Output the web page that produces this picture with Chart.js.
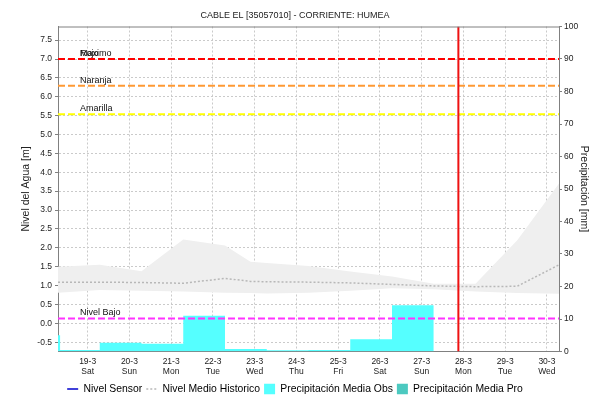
<!DOCTYPE html>
<html>
<head>
<meta charset="utf-8">
<script src="https://cdn.jsdelivr.net/npm/chart.js@4.4.0/dist/chart.umd.min.js"></script>
<style>
html,body{margin:0;padding:0;background:#fff;}
</style>
</head>
<body>
<canvas id="chart" width="590" height="403"></canvas>
<script>
// Cable El - nivel del agua y precipitacion

const days = ['19-3','20-3','21-3','22-3','23-3','24-3','25-3','26-3','27-3','28-3','29-3','30-3'];
const weekdays = ['Sat','Sun','Mon','Tue','Wed','Thu','Fri','Sat','Sun','Mon','Tue','Wed'];
const dayTicks = [0,1,2,3,4,5,6,7,8,9,10,11];

// historico (m), x en dias desde 19-3 00:00
const histX    = [-0.71, 0.29, 1.29, 2.29, 3.29, 3.9, 4.29, 5.29, 6.29, 7.29, 8.29, 9.29, 10.29, 11.29];
const histMax  = [1.50, 1.55, 1.38, 2.22, 2.06, 1.63, 1.60, 1.52, 1.37, 1.24, 1.05, 1.05, 2.20, 3.70];
const histMin  = [0.81, 0.88, 0.86, 0.84, 0.81, 0.80, 0.79, 0.81, 0.86, 0.93, 0.90, 0.84, 0.80, 0.78];
const histMean = [1.09, 1.09, 1.08, 1.06, 1.19, 1.11, 1.10, 1.09, 1.07, 1.03, 0.99, 0.97, 0.98, 1.55];

// precipitacion media observada (mm), valor vale hasta el siguiente punto
const precipX   = [-0.71, -0.66, 0.29, 1.29, 2.29, 3.29, 4.29, 5.29, 6.29, 7.29, 8.29];
const precipObs = [5.0, 0.5, 2.7, 2.4, 11.0, 0.8, 0.4, 0.45, 3.8, 14.2, 0];

const sensorLevel = [];
const precipPro = [];

const alertNames  = ['Maximo','Rojo','Naranja','Amarilla','Nivel Bajo'];
const alertLevels = [7.0, 7.0, 6.29, 5.54, 0.13];
const alertColors = ['#ff0000','#ff0000','#ff9933','#ffff00','#ff33ff'];

const nowX = 8.88;
const levelTicks = [-0.5,0,0.5,1,1.5,2,2.5,3,3.5,4,4.5,5,5.5,6,6.5,7,7.5];

const X_MIN = -0.71, X_MAX = 11.29;
const Y_MIN = -0.747, Y_MAX = 7.861;

const FONT = '"Liberation Sans", Arial, sans-serif';
Chart.defaults.font.family = FONT;
Chart.defaults.color = '#333';

const pts = (xs, ys) => xs.map((x, i) => ({x: x, y: ys[i]}));

const datasets = [
  {label:'Nivel Sensor', data: sensorLevel, borderColor:'#0000cc', borderWidth:1.5, pointRadius:0, order:0,
   legendStyle:'line'},
  {label:'Nivel Medio Historico', data: pts(histX, histMean), borderColor:'#b8b8b8', borderWidth:1.5,
   borderDash:[2,2], pointRadius:0, order:5, legendStyle:'line'},
  {label:'max', data: pts(histX, histMax), borderWidth:0, pointRadius:0, fill:'+1',
   backgroundColor:'#efefef', order:9},
  {label:'min', data: pts(histX, histMin), borderWidth:0, pointRadius:0, order:9},
  {label:'Precipitación Media Obs', data: pts(precipX, precipObs), yAxisID:'y1', stepped:'before',
   borderWidth:0, pointRadius:0, fill:'origin', backgroundColor:'#55ffff', borderColor:'#55ffff', order:7,
   legendStyle:'rect'},
  {label:'Precipitación Media Pro', data: precipPro, yAxisID:'y1', borderWidth:0, pointRadius:0,
   backgroundColor:'#4cc9c0', borderColor:'#4cc9c0', order:7, legendStyle:'rect'}
];

alertLevels.forEach((v, i) => {
  if (i === 0) return;
  datasets.push({label: alertNames[i], data: pts([X_MIN, X_MAX], [v, v]), borderColor: alertColors[i],
    borderWidth: 2, borderDash: [7,3], pointRadius: 0, order: 3});
});
datasets.push({label:'now', data: pts([nowX, nowX], [Y_MIN, Y_MAX]), borderColor:'#ee1111',
  borderWidth:2, pointRadius:0, order:1});

const legendIdx = [0,1,4,5];

const alertLabels = {
  id:'alertLabels',
  afterDatasetsDraw(chart) {
    const {ctx, chartArea, scales} = chart;
    ctx.save();
    ctx.font = '9px ' + FONT;
    ctx.fillStyle = '#111';
    ctx.textBaseline = 'bottom';
    alertNames.forEach((n, i) => {
      ctx.fillText(n, chartArea.left + 22, scales.y.getPixelForValue(alertLevels[i]) - 1);
    });
    ctx.restore();
  }
};

const frame = {
  id:'frame',
  afterDraw(chart) {
    const a = chart.chartArea, ctx = chart.ctx;
    ctx.save();
    ctx.strokeStyle = '#808080';
    ctx.lineWidth = 1;
    ctx.beginPath();
    ctx.moveTo(a.left, a.top + 0.5);
    ctx.lineTo(a.right, a.top + 0.5);
    ctx.stroke();
    ctx.restore();
  }
};

const legendHeight = {
  id:'legendHeight',
  beforeLayout(chart) {
    const lg = chart.legend;
    if (lg && !lg._fixed) {
      const f = lg.fit;
      lg.fit = function() { f.call(this); this.height = 23.2; };
      lg._fixed = true;
    }
  }
};

new Chart(document.getElementById('chart'), {
  type:'line',
  data:{datasets: datasets},
  plugins:[alertLabels, frame, legendHeight],
  options:{
    responsive:false,
    animation:false,
    devicePixelRatio:1,
    layout:{padding:0},
    plugins:{
      title:{display:true, text:'CABLE EL [35057010] - CORRIENTE: HUMEA', color:'#222',
        font:{size:9, weight:'normal'}, padding:{top:10, bottom:5.7}},
      legend:{
        position:'bottom',
        labels:{
          usePointStyle:true, pointStyleWidth:11, boxHeight:11, padding:4, color:'#222',
          font:{size:10.4},
          generateLabels: chart => legendIdx.map(i => {
            const ds = chart.data.datasets[i];
            const isLine = ds.legendStyle === 'line';
            return {text: ds.label, datasetIndex: i, pointStyle: ds.legendStyle,
              fillStyle: ds.backgroundColor || ds.borderColor, strokeStyle: ds.borderColor,
              lineWidth: isLine ? 1.5 : 0, lineDash: ds.borderDash || [], hidden:false};
          })
        }
      },
      tooltip:{enabled:false}
    },
    scales:{
      x:{
        type:'linear', min:X_MIN, max:X_MAX,
        afterBuildTicks: s => { s.ticks = dayTicks.map(v => ({value:v})); },
        afterFit: s => { s.height = 28.3; },
        ticks:{padding:4.75, color:'#222', font:{size:8.5, lineHeight:1.235},
          callback: v => [days[v], weekdays[v]]},
        grid:{color:'#cacaca', drawTicks:false},
        border:{color:'#808080', dash:[2,2]}
      },
      y:{
        position:'left', min:Y_MIN, max:Y_MAX,
        afterBuildTicks: s => { s.ticks = levelTicks.map(v => ({value:v})); },
        afterFit: s => { s.width = 58; },
        ticks:{padding:3, color:'#222', font:{size:8.5}, callback: v => Number(v).toFixed(1)},
        grid:{color:'#cacaca', tickLength:3, tickColor:'#808080'},
        border:{color:'#808080', dash:[2,2]},
        title:{display:true, text:'Nivel del Agua [m]', color:'#222', font:{size:10.5}, padding:{top:20, bottom:0}}
      },
      y1:{
        position:'right', min:0, max:100,
        afterFit: s => { s.width = 31; },
        ticks:{stepSize:10, padding:2, color:'#222', font:{size:8.5}},
        grid:{drawOnChartArea:false, tickLength:3, tickColor:'#808080'},
        border:{color:'#808080'},
        title:{display:true, text:'Precipitación [mm]', color:'#222', font:{size:10.5}, padding:{top:0, bottom:0}}
      }
    }
  }
});
</script>
</body>
</html>
